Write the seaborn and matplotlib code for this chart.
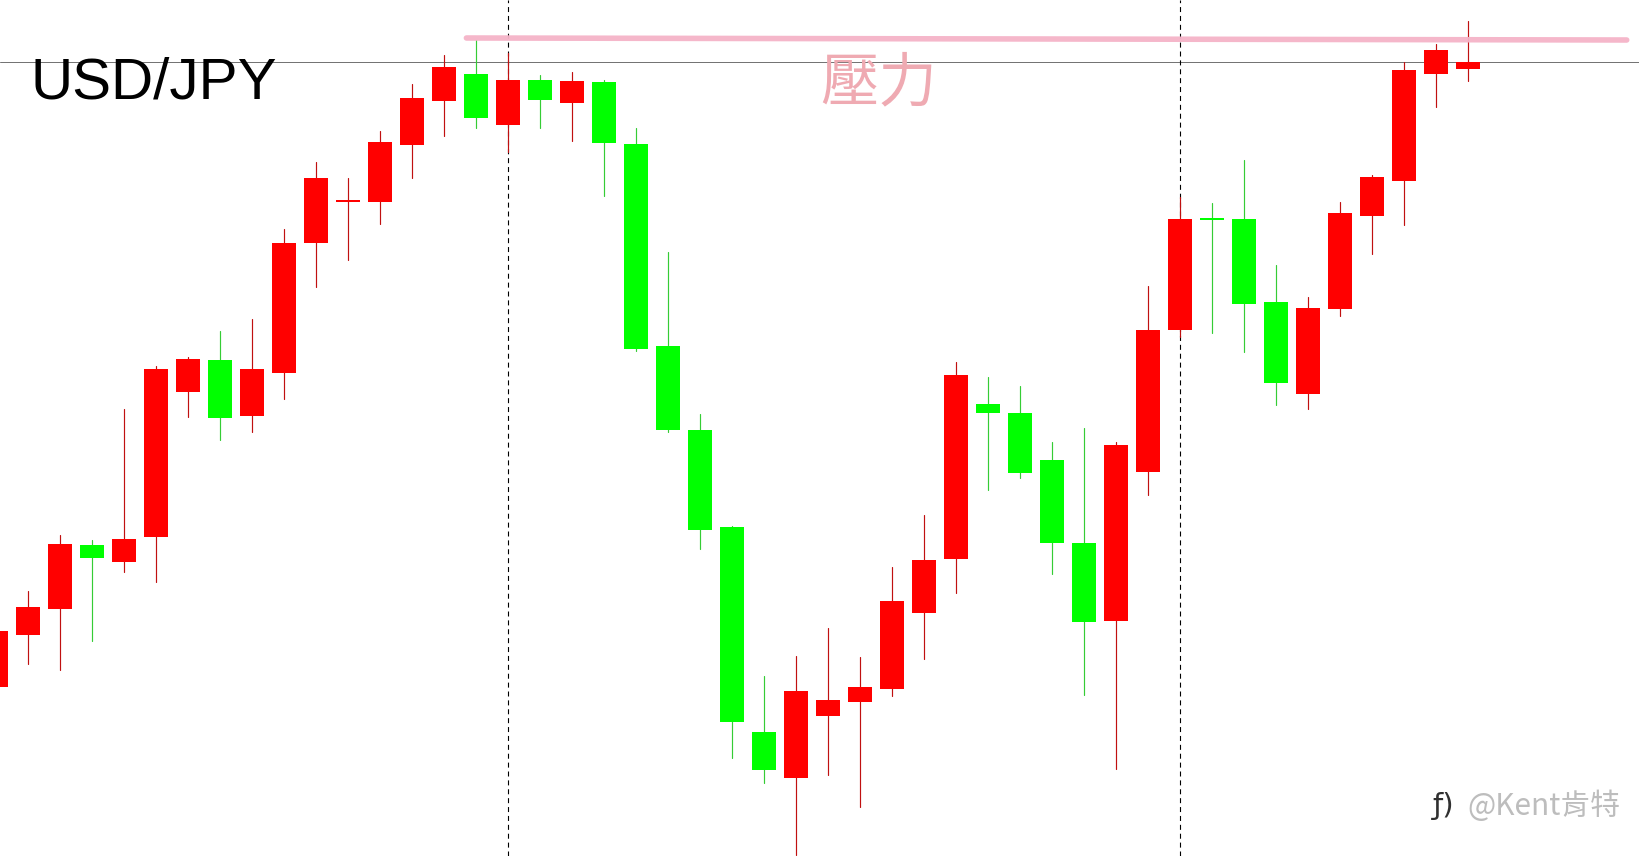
import matplotlib
matplotlib.use("Agg")
import matplotlib.pyplot as plt
import pandas as pd
import seaborn as sns

# Chart readings on an unlabelled price scale (candle index = session order)
wick_high = [236, 265, 321, 316, 447, 490, 499, 525, 537, 627, 694, 678, 725, 772, 801, 816,
             803, 781, 784, 776, 728, 604, 442, 330, 180, 200, 228, 199, 289, 341, 494, 479,
             470, 414, 428, 414, 570, 659, 653, 696, 591, 559, 654, 681, 794, 812, 835]
body_top = [225, 249, 312, 311, 317, 487, 497, 496, 487, 613, 678, 656, 714, 758, 789, 782,
            776, 776, 775, 774, 712, 510, 426, 329, 124, 165, 156, 169, 255, 296, 481, 452,
            443, 396, 313, 411, 526, 637, 638, 637, 554, 548, 643, 679, 786, 806, 794]
body_bottom = [169, 221, 247, 298, 294, 319, 464, 438, 440, 483, 613, 654, 654, 711, 755, 738,
               731, 756, 753, 713, 507, 426, 326, 134, 86, 78, 140, 154, 167, 243, 297, 443,
               383, 313, 234, 235, 384, 526, 636, 552, 473, 462, 547, 640, 675, 782, 787]
wick_low = [156, 192, 186, 215, 284, 274, 439, 416, 424, 457, 569, 596, 632, 678, 720, 728,
            704, 728, 715, 660, 505, 424, 307, 98, 73, 1, 81, 49, 160, 197, 263, 366,
            378, 282, 161, 87, 361, 519, 523, 504, 451, 447, 540, 602, 631, 749, 775]
green_candles = [3, 7, 15, 17, 19, 20, 21, 22, 23, 24, 31, 32, 33, 34, 38, 39, 40]

resistance_x = [14.7, 50.96]
resistance_y = [818, 816]
level_line = 794
session_marks = [16, 37]

title_text = "USD/JPY"
zone_text = "壓力"
brand_mark = "ƒ)"
brand_text = "@Kent肯特"

RED, GREEN = "#ff0000", "#00ff00"
RED_WICK, GREEN_WICK = "#c01010", "#35cc35"

sns.set_theme(style="white")
plt.rcParams["font.family"] = ["Noto Sans CJK TC", "DejaVu Sans"]

n = len(wick_high)
candle = list(range(n))
kind = ["down" if i in green_candles else "up" for i in candle]

wicks = pd.DataFrame({
    "candle": candle * 2,
    "price": wick_low + wick_high,
    "kind": kind * 2,
})

fig = plt.figure(figsize=(16.4, 8.56), dpi=100, facecolor="white")
ax = fig.add_axes([0, 0, 1, 1])

# horizontal reference and session separators sit under the candles
ax.axhline(level_line, color="#707070", lw=0.7, zorder=1)
for mark in session_marks:
    ax.axvline(mark, color="black", lw=0.8, ls=(0, (4.5, 3.5)), zorder=1)

sns.lineplot(
    data=wicks, x="candle", y="price", units="candle", estimator=None, sort=False,
    hue="kind", palette={"up": RED_WICK, "down": GREEN_WICK},
    lw=0.85, legend=False, ax=ax, zorder=2,
)

heights = [t - b for t, b in zip(body_top, body_bottom)]
colours = [GREEN if k == "down" else RED for k in kind]
ax.bar(candle, heights, bottom=body_bottom, width=0.78, color=colours, lw=0, zorder=3)

ax.plot(resistance_x, resistance_y, color="#f5b3c8", lw=4,
        solid_capstyle="round", alpha=0.95, zorder=4)

ax.set_xlim(0.125, 51.375)
ax.set_ylim(0, 856)
ax.set_axis_off()

ax.text(0.0185, 0.9025, title_text, transform=ax.transAxes, fontsize=42,
        family="Liberation Sans", color="black", va="center", ha="left", zorder=5)
ax.text(0.5355, 0.9025, zone_text, transform=ax.transAxes, fontsize=42,
        color="#efaab2", va="center", ha="center", zorder=5)
ax.text(0.8805, 0.0585, brand_mark, transform=ax.transAxes, fontsize=21,
        family="DejaVu Sans", color="#303030", va="center", ha="center", zorder=5)
ax.text(0.8945, 0.0585, brand_text, transform=ax.transAxes, fontsize=21.5,
        color="#bdbdbd", va="center", ha="left", zorder=5)

fig.savefig("out.png", dpi=100, facecolor="white")
